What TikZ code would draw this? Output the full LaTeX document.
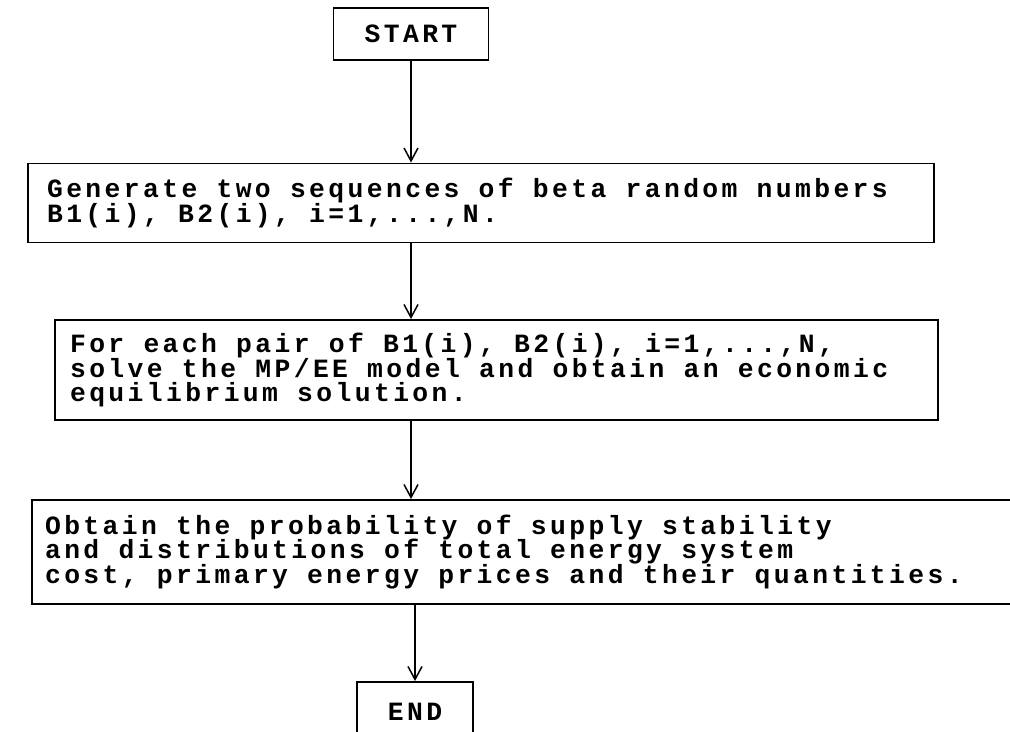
\documentclass[tikz,border=0pt]{standalone}
\usepackage{fontspec}
\newfontfamily\flowfamily{Liberation Mono}[LetterSpace=12.9]
\usetikzlibrary{arrows.meta}

\newcommand{\flowfont}{\flowfamily\bfseries\fontsize{15}{14}\selectfont\lineskiplimit=-50pt}
\newcommand{\flowspace}{\spaceskip=10.93pt\relax \xspaceskip=10.93pt\relax}

\begin{document}
\begin{tikzpicture}[x=0.02cm, y=-0.02cm, >={Straight Barb[length=2.6mm,width=2.8mm]},
  box/.style={draw, line width=1.1pt, align=left, font=\flowfont, execute at begin node=\flowspace},
  flow/.style={->, line width=0.85pt}]
\path[use as bounding box, clip] (0,0) rectangle (1010,732);
\node (start) at (411,34) [box, minimum width=3.1cm, minimum height=1.04cm, inner sep=0pt] {START};
\node (gen) at (481,203) [box, minimum width=18.12cm, minimum height=1.58cm, inner xsep=0.38cm, text width=17.36cm] {Generate two sequences of beta random numbers\\B1(i), B2(i), i=1,...,N.};
\node (solve) at (496.5,370) [box, minimum width=17.66cm, minimum height=2cm, inner xsep=0.3cm, text width=17.06cm] {For each pair of B1(i), B2(i), i=1,...,N,\\solve the MP/EE model and obtain an economic\\equilibrium solution.};
\node (obtain) at (531,552) [box, minimum width=19.96cm, minimum height=2.08cm, inner xsep=0.26cm, text width=19.44cm] {Obtain the probability of supply stability\\and distributions of total energy system\\cost, primary energy prices and their quantities.};
\node (fin) at (415,712) [box, minimum width=2.32cm, minimum height=1.2cm, inner sep=0pt] {END};
\draw[flow] (start.south) -- (start.south |- gen.north);
\draw[flow] (gen.south -| start) -- (solve.north -| start);
\draw[flow] (solve.south -| start) -- (obtain.north -| start);
\draw[flow] (obtain.south -| fin) -- (fin.north);
\end{tikzpicture}
\end{document}
